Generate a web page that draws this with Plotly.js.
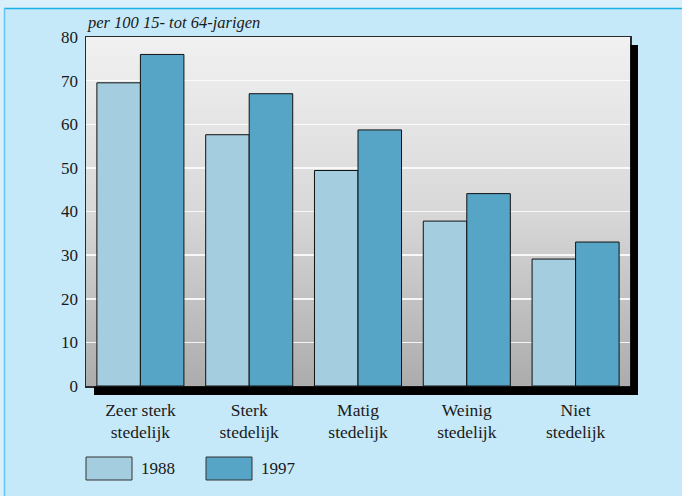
<!DOCTYPE html>
<html>
<head>
<meta charset="utf-8">
<script src="https://cdn.plot.ly/plotly-3.0.1.min.js"></script>
<style>html,body{margin:0;padding:0;background:#c6e9f9;}#chart{width:682px;height:496px;}</style>
</head>
<body>
<div id="chart"></div>
<script>
var categories = ['Zeer sterk<br>stedelijk', 'Sterk<br>stedelijk', 'Matig<br>stedelijk', 'Weinig<br>stedelijk', 'Niet<br>stedelijk'];
var seriesNames = ['1988', '1997'];
var values1988 = [69.5, 57.6, 49.4, 37.8, 29.1];
var values1997 = [76.0, 67.0, 58.7, 44.1, 33.0];
var yTicks = [0, 10, 20, 30, 40, 50, 60, 70, 80];
var subtitle = 'per 100 15- tot 64-jarigen';

var colors = ['#a4cde0', '#56a5c7'];
var W = 682, H = 496, L = 86, R = 630, T = 37, B = 386;
function px(x) { return (x - L) / (R - L); }
function py(y) { return (B - y) / (B - T); }

var FAMILY = '"Liberation Serif", "Times New Roman", "DejaVu Serif", serif';
var font = {family: FAMILY, size: 17, color: '#1a1a1a'};
var xfont = {family: FAMILY, size: 17.5, color: '#1a1a1a'};

var traces = [values1988, values1997].map(function (vals, i) {
  return {
    type: 'bar', x: categories, y: vals, name: seriesNames[i],
    marker: {color: colors[i], line: {color: '#111', width: 1}},
    showlegend: false, hoverinfo: 'x+y'
  };
});

var grad = 'data:image/svg+xml;utf8,' + encodeURIComponent(
  '<svg xmlns="http://www.w3.org/2000/svg" width="100" height="100" viewBox="0 0 100 100" preserveAspectRatio="none">' +
  '<defs><linearGradient id="g" x1="0" y1="0" x2="0" y2="1">' +
  '<stop offset="0" stop-color="#f1f1f1"/><stop offset="0.5" stop-color="#d8d8d8"/><stop offset="1" stop-color="#acacac"/></linearGradient></defs>' +
  '<rect x="0" y="0" width="100" height="100" fill="url(#g)"/></svg>');

var shapes = [
  {type: 'rect', xref: 'paper', yref: 'paper', x0: px(0), x1: px(W), y0: py(8), y1: py(0), fillcolor: '#d9f0fb', line: {width: 0}, layer: 'below'},
  {type: 'rect', xref: 'paper', yref: 'paper', x0: px(0), x1: px(4), y0: py(H), y1: py(8), fillcolor: '#d9f0fb', line: {width: 0}, layer: 'below'},
  {type: 'line', xref: 'paper', yref: 'paper', x0: px(4), x1: px(W), y0: py(8.5), y1: py(8.5), line: {color: '#19afe9', width: 1.5}},
  {type: 'line', xref: 'paper', yref: 'paper', x0: px(4.5), x1: px(4.5), y0: py(8), y1: py(H), line: {color: '#62c6f1', width: 1.5}},
  {type: 'rect', xref: 'paper', yref: 'paper', x0: px(630.5), x1: px(638), y0: py(395), y1: py(45), fillcolor: '#000', line: {width: 0}, layer: 'above'},
  {type: 'rect', xref: 'paper', yref: 'paper', x0: px(94), x1: px(638), y0: py(395), y1: py(386.5), fillcolor: '#000', line: {width: 0}, layer: 'above'}
];

var annotations = [
  {xref: 'paper', yref: 'paper', x: px(85), y: py(34), xanchor: 'left', yanchor: 'bottom', showarrow: false,
   text: '<i>' + subtitle + '</i>', font: {family: FAMILY, size: 16.5, color: '#1a1a1a'}}
];

var legendX = [86, 206];
seriesNames.forEach(function (name, i) {
  var x0 = legendX[i];
  shapes.push({type: 'rect', xref: 'paper', yref: 'paper', x0: px(x0), x1: px(x0 + 46), y0: py(480), y1: py(457),
    fillcolor: colors[i], line: {color: '#333', width: 1}});
  annotations.push({xref: 'paper', yref: 'paper', x: px(x0 + 53), y: py(468.5), xanchor: 'left', yanchor: 'middle',
    showarrow: false, text: name, font: font});
});

var layout = {
  width: W, height: H,
  margin: {l: L, r: W - R, t: T, b: H - B, pad: 0},
  paper_bgcolor: '#c6e9f9',
  plot_bgcolor: 'rgba(0,0,0,0)',
  font: font,
  barmode: 'group', bargap: 0.2, bargroupgap: 0,
  showlegend: false,
  images: [{source: grad, xref: 'paper', yref: 'paper', x: 0, y: 1, sizex: 1, sizey: 1,
    sizing: 'stretch', xanchor: 'left', yanchor: 'top', layer: 'below'}],
  xaxis: {showgrid: false, showline: true, mirror: true, linecolor: '#2a2a2a', linewidth: 1.5,
    ticks: '', tickfont: xfont, ticklabelstandoff: 7, fixedrange: true},
  yaxis: {range: [0, 80], tickvals: yTicks, ticktext: yTicks.map(String), showgrid: true,
    gridcolor: 'rgba(255,255,255,0.85)', gridwidth: 1.5, zeroline: false, showline: true, mirror: true,
    linecolor: '#2a2a2a', linewidth: 1.5, ticks: '', tickfont: font, ticklabelstandoff: 3, fixedrange: true},
  shapes: shapes,
  annotations: annotations
};

Plotly.newPlot('chart', traces, layout, {displayModeBar: false, staticPlot: true});
</script>
</body>
</html>
